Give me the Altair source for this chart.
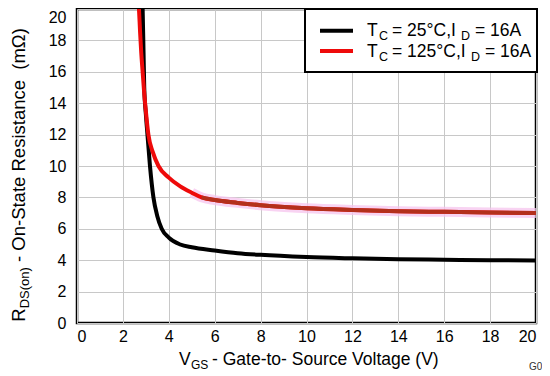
import altair as alt
import pandas as pd

# ---- data ----
vgs_25 = [2.84, 2.86, 2.9, 2.93, 3.0, 3.07, 3.18, 3.33, 3.5, 3.69, 4.0, 4.5, 5.0, 6.0, 7.0, 8.0, 10.0, 12.0, 14.0, 16.0, 18.0, 20.0]
rds_25 = [21.0, 20.0, 17.2, 15.0, 13.3, 12.0, 10.0, 8.0, 6.8, 6.0, 5.44, 5.0, 4.82, 4.62, 4.45, 4.34, 4.2, 4.12, 4.06, 4.03, 4.0, 3.98]

vgs_125 = [2.65, 2.7, 2.75, 2.8, 2.86, 2.92, 3.0, 3.11, 3.3, 3.55, 4.0, 4.5, 5.0, 5.43, 6.0, 7.0, 8.0, 10.0, 12.0, 14.0, 16.0, 18.0, 20.0]
rds_125 = [21.0, 20.0, 18.5, 17.2, 16.0, 14.8, 13.5, 12.0, 10.9, 10.0, 9.26, 8.7, 8.3, 8.0, 7.83, 7.65, 7.5, 7.31, 7.2, 7.12, 7.08, 7.04, 7.01]

x_ticks = list(range(0, 21, 2))
y_ticks = list(range(0, 21, 2))

FONT = "Liberation Sans"
W, H = 459, 314

df25 = pd.DataFrame({"vgs": vgs_25, "rds": rds_25})
df125 = pd.DataFrame({"vgs": vgs_125, "rds": rds_125})
df125_tail = df125[df125["vgs"] >= 5.0]
df125_dark = df125[df125["vgs"] >= 5.3]

xs = alt.Scale(domain=[0, 20], nice=False)
ys = alt.Scale(domain=[0, 20], nice=False)

xenc = alt.X("vgs:Q", scale=xs,
             axis=alt.Axis(values=x_ticks, title=None, grid=True, domain=False, ticks=False,
                           labelFont=FONT, labelFontSize=16, labelColor="black",
                           labelPadding=5, gridColor="#c8c8c8", gridWidth=1))
yenc = alt.Y("rds:Q", scale=ys,
             axis=alt.Axis(values=y_ticks, title=None, grid=True, domain=False, ticks=False,
                           labelFont=FONT, labelFontSize=16, labelColor="black",
                           labelPadding=11, gridColor="#c8c8c8", gridWidth=1,
                           labelBaseline={"condition": {"test": "datum.value == 20", "value": "top"},
                                          "value": "middle"}))

halo = alt.Chart(df125_tail).mark_line(color="#f6c4ee", strokeWidth=10, opacity=0.75,
                                       interpolate="monotone", clip=True).encode(x=xenc, y=yenc)
black = alt.Chart(df25).mark_line(color="black", strokeWidth=4, interpolate="monotone",
                                  clip=True).encode(x=xenc, y=yenc)
red = alt.Chart(df125).mark_line(color="#ee0a0a", strokeWidth=4, interpolate="monotone",
                                 clip=True).encode(x=xenc, y=yenc)
dark = alt.Chart(df125_dark).mark_line(color="#b3301c", strokeWidth=4, interpolate="monotone",
                                       clip=True).encode(x=xenc, y=yenc)

one = pd.DataFrame({"a": [0]})


def txt(text, x, y, size=17.5, angle=0, color="black"):
    kw = dict(text=text, font=FONT, fontSize=size, align="left", baseline="alphabetic", color=color)
    if angle:
        kw["angle"] = angle
    return alt.Chart(one).mark_text(**kw).encode(x=alt.value(x), y=alt.value(y))


layers = [halo, black, red, dark]

# legend box
layers.append(alt.Chart(one).mark_rect(fill="white", stroke="black", strokeWidth=2).encode(
    x=alt.value(228), x2=alt.value(460), y=alt.value(0), y2=alt.value(63)))
layers.append(alt.Chart(one).mark_rule(color="black", strokeWidth=4).encode(
    x=alt.value(243), x2=alt.value(276), y=alt.value(21.7)))
layers.append(alt.Chart(one).mark_rule(color="#ee0a0a", strokeWidth=4).encode(
    x=alt.value(243), x2=alt.value(276), y=alt.value(42)))

legend_rows = [("25", 27, 384), ("125", 47.7, 394)]
for temp, base, dx in legend_rows:
    layers.append(txt("T", 290, base))
    layers.append(txt("C", 302, base + 4, size=12.5))
    layers.append(txt("= " + temp + "°C,I", 315, base))
    layers.append(txt("D", dx, base + 4, size=12.5))
    layers.append(txt("= 16A", dx + 14, base))

# x title
layers.append(txt("V", 102, 356))
layers.append(txt("GS", 114, 360, size=12))
layers.append(txt("- Gate-to- Source Voltage (V)", 135, 356))

# y title
layers.append(txt("R", -52, 312.7, size=18.5, angle=270))
layers.append(txt("DS(on)", -48, 299.3, size=13, angle=270))
layers.append(txt("- On-State Resistance \u00a0(mΩ)", -52, 253, size=18.5, angle=270))

# corner code (cut at the edge in the reference, shown as visible there)
layers.append(txt("G0", 452, 361, size=10, color="#333333"))

chart = alt.layer(*layers).properties(
    width=W, height=H,
    autosize=alt.AutoSizeParams(type="none"),
    padding={"left": 69, "top": 1, "right": 6, "bottom": 52},
).configure_view(stroke="black", strokeWidth=2.5)

chart.save("out.html", embed_options={"renderer": "svg", "actions": False})
